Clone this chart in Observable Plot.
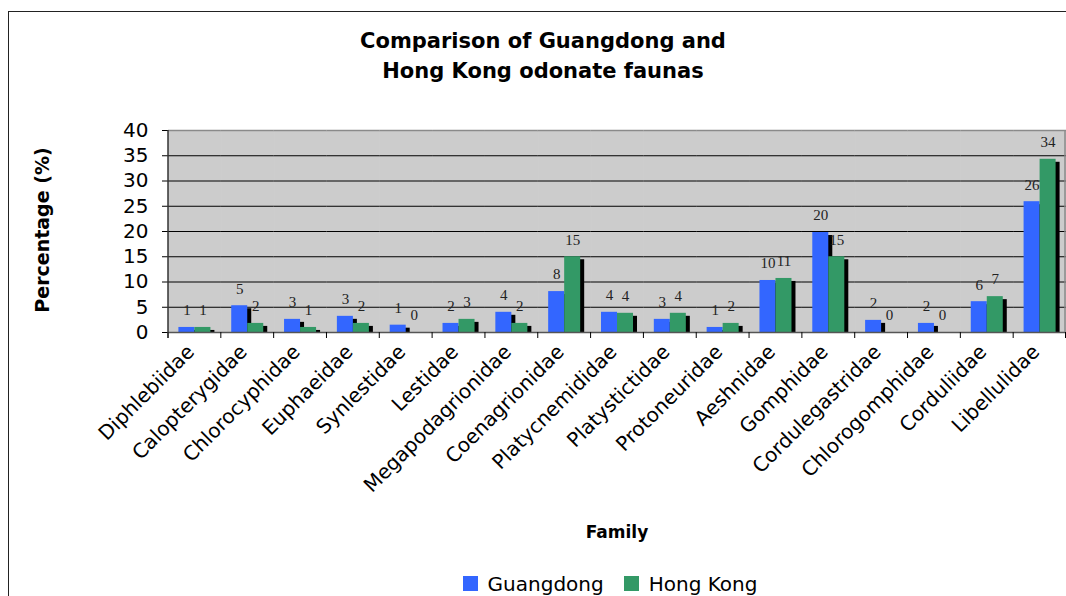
<!DOCTYPE html>
<html>
<head>
<meta charset="utf-8">
<script src="https://cdn.jsdelivr.net/npm/d3@7"></script>
<script src="https://cdn.jsdelivr.net/npm/@observablehq/plot@0.6"></script>
<style>
  body { margin: 0; background: #fff; }
  #wrap { position: relative; width: 1066px; height: 596px; overflow: hidden; font-family: "DejaVu Sans", Verdana, sans-serif; }
  #title { position: absolute; left: 0; width: 1086px; top: 26px; text-align: center; font-weight: bold; font-size: 21px; line-height: 30px; color: #000; }
  #ytitle { position: absolute; left: 42px; top: 230px; transform: translate(-50%, -50%) rotate(-90deg); font-weight: bold; font-size: 19px; white-space: nowrap; color: #000; }
  #xtitle { position: absolute; left: 417px; width: 400px; top: 521px; text-align: center; font-weight: bold; font-size: 17px; line-height: 22px; color: #000; }
  #legend { position: absolute; left: 370px; width: 500px; top: 567px; display: flex; justify-content: center; }
  #border { position: absolute; left: 8px; top: 11px; width: 1200px; height: 800px; border-left: 1.5px solid #222; border-top: 1.5px solid #222; pointer-events: none; }
</style>
</head>
<body>
<div id="wrap">
  <div id="border"></div>
  <div id="title">Comparison of Guangdong and<br>Hong Kong odonate faunas</div>
  <div id="ytitle">Percentage (%)</div>
  <div id="xtitle">Family</div>
  <div id="legend"></div>
</div>
<script>
const families = ["Diphlebiidae","Calopterygidae","Chlorocyphidae","Euphaeidae","Synlestidae","Lestidae","Megapodagrionidae","Coenagrionidae","Platycnemididae","Platystictidae","Protoneuridae","Aeshnidae","Gomphidae","Cordulegastridae","Chlorogomphidae","Corduliidae","Libellulidae"];
const series = ["Guangdong", "Hong Kong"];
const guangdong = [1.0, 5.3, 2.6, 3.2, 1.45, 1.8, 4.0, 8.1, 4.0, 2.6, 1.0, 10.3, 19.8, 2.4, 1.8, 6.1, 25.9];
const hongKong  = [1.0, 1.8, 1.0, 1.8, 0, 2.6, 1.8, 15.0, 3.8, 3.8, 1.8, 10.7, 15.0, 0, 0, 7.1, 34.3];
const yTicks = [0, 5, 10, 15, 20, 25, 30, 35, 40];
const colors = ["#3366ff", "#339966"];

const rows = families.flatMap((f, i) => [
  {family: f, series: series[0], value: guangdong[i]},
  {family: f, series: series[1], value: hongKong[i]}
]);

const plot = Plot.plot({
  width: 1066,
  height: 596,
  marginLeft: 168,
  marginRight: 0,
  marginTop: 130,
  marginBottom: 264,
  style: {fontFamily: "'DejaVu Sans', Verdana, sans-serif", fontSize: "20px", color: "#000", background: "transparent", overflow: "visible"},
  fx: {domain: families, padding: 0, round: false, label: null},
  x: {domain: series, paddingInner: 0, paddingOuter: 0.65, round: false, axis: null},
  y: {domain: [0, 40], ticks: yTicks, tickSize: 6, tickPadding: 14, label: null, tickFormat: d => d},
  color: {domain: series, range: colors},
  marks: [
    Plot.frame({fill: "#cccccc", stroke: "#cccccc"}),
    Plot.ruleY(yTicks.filter(t => t > 0 && t < 40), {stroke: "#000", strokeWidth: 1.2}),
    Plot.ruleY([40], {stroke: "#8a8a8a", strokeWidth: 1.5}),
    Plot.barY(rows.filter(d => d.value > 0), {fx: "family", x: "series", y: "value", fill: "#000", insetTop: 3, dx: 4}),
    Plot.barY(rows, {fx: "family", x: "series", y: "value", fill: "series"}),
    Plot.text(rows, {fx: "family", x: "series", y: "value", text: d => String(Math.round(d.value)), dy: -17, fontFamily: "'Liberation Serif', 'Times New Roman', serif", fontSize: 15, fill: "#222"}),
    Plot.ruleY([0], {stroke: "#555", strokeWidth: 1.5}),
    Plot.axisFx({anchor: "bottom", tickRotate: -45, tickSize: 0, tickPadding: 16, dx: -4, label: null})
  ]
});

const fx = plot.scale("fx");
const y = plot.scale("y");
const svg = d3.select(plot);
const g = svg.append("g").attr("stroke", "#000");
const x0 = fx.range[0], x1 = fx.range[1];
const y0 = y.apply(0), yTop = y.apply(40);
const bounds = families.map(f => fx.apply(f)).concat([x1 - 0.5]);
g.selectAll("line.bt").data(bounds).join("line")
  .attr("x1", d => d).attr("x2", d => d)
  .attr("y1", y0).attr("y2", y0 + 6);
g.append("line").attr("x1", x0).attr("x2", x0).attr("y1", yTop).attr("y2", y0 + 6).attr("stroke", "#333").attr("stroke-width", 1.5);
g.append("line").attr("x1", x1 - 1).attr("x2", x1 - 1).attr("y1", yTop).attr("y2", y0).attr("stroke", "#8a8a8a").attr("stroke-width", 1.5);

const wrap = document.getElementById("wrap");
wrap.insertBefore(plot, wrap.firstChild);
plot.style.position = "absolute";
plot.style.left = "0px";
plot.style.top = "0px";

const legend = Plot.legend({
  color: {domain: series, range: colors},
  swatchSize: 15,
  style: {fontFamily: "'DejaVu Sans', Verdana, sans-serif", fontSize: "20px", color: "#000", background: "transparent"}
});
document.getElementById("legend").appendChild(legend);
</script>
</body>
</html>
